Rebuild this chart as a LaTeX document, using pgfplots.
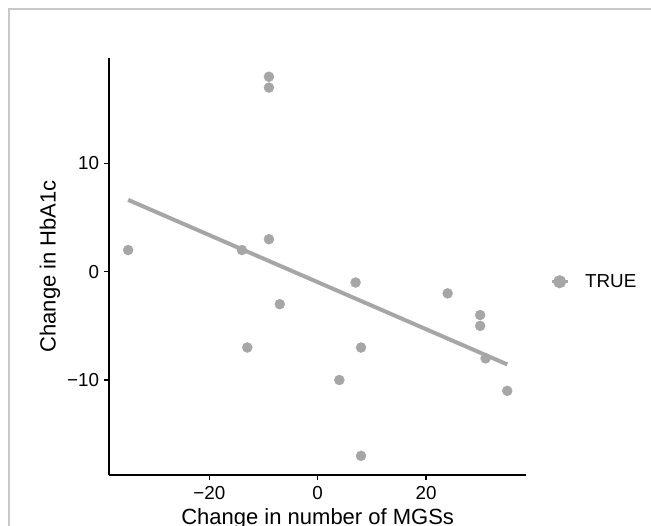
\documentclass[border=0pt]{standalone}
\usepackage{pgfplots}
\pgfplotsset{compat=1.18}
\usepackage{fontspec}
\setmainfont{Liberation Sans}
\definecolor{ptgray}{RGB}{166,166,166}
\definecolor{framegray}{RGB}{200,200,200}
\begin{document}
\begin{tikzpicture}[x=1pt,y=1pt]
\begin{axis}[
  at={(109.2pt,51.2pt)}, anchor=south west,
  scale only axis, width=417pt, height=417pt,
  xmin=-38.5, xmax=38.5, ymin=-18.75, ymax=19.75,
  axis x line=bottom, axis y line=left,
  axis line style={-, line width=1.6pt, black},
  xtick={-20,0,20}, xticklabels={−20,0,20},
  ytick={-10,0,10}, yticklabels={−10,0,10},
  tick align=outside, major tick length=5pt,
  tick style={black, line width=1.2pt},
  xticklabel style={font=\fontsize{18.8}{21}\selectfont, inner sep=0pt, anchor=north, yshift=-6pt},
  yticklabel style={font=\fontsize{18.8}{21}\selectfont, inner sep=0pt, anchor=east, xshift=-5pt},
  xlabel={Change in number of MGSs},
  ylabel={Change in HbA1c},
  xlabel style={font=\fontsize{22}{26}\selectfont, at={(axis description cs:0.5,0)}, anchor=north, inner sep=0pt, yshift=-33.2pt},
  ylabel style={font=\fontsize{22}{26}\selectfont, at={(axis description cs:-0.142,0.5)}, anchor=center, rotate=0, inner sep=0pt},
  legend style={at={(axis description cs:1.057,0.463)}, anchor=west, draw=none, fill=none,
    font=\fontsize{18.8}{21}\selectfont, inner sep=0pt, column sep=16pt,
    nodes={inner sep=0pt}},
  legend cell align=left,
  legend image code/.code={\draw[#1, mark repeat=2, mark phase=2] plot coordinates {(0pt,0pt) (8pt,0pt) (16pt,0pt)};},
  clip=false,
]
\addplot[ptgray, line width=4pt, forget plot] coordinates {(-35,6.63) (35,-8.56)};
\addplot[only marks, mark=*, mark size=5pt, ptgray, mark options={draw=none, fill=ptgray}, forget plot] coordinates {
(-35,2) (-14,2) (-13,-7) (-9,18) (-9,17) (-9,3) (-7,-3) (7,-1) (8,-7) (4,-10) (8,-17) (24,-2) (30,-4) (30,-5) (31,-8) (35,-11)
};
\addlegendimage{ptgray, line width=3pt, mark=*, mark size=5pt, mark options={draw=none, fill=ptgray}}
\addlegendentry{TRUE}
\end{axis}
\draw[framegray, line width=1.5pt] (9,0) -- (9,517) -- (651,517);
\pgfresetboundingbox
\useasboundingbox (0,0) rectangle (651,526);
\end{tikzpicture}
\end{document}
